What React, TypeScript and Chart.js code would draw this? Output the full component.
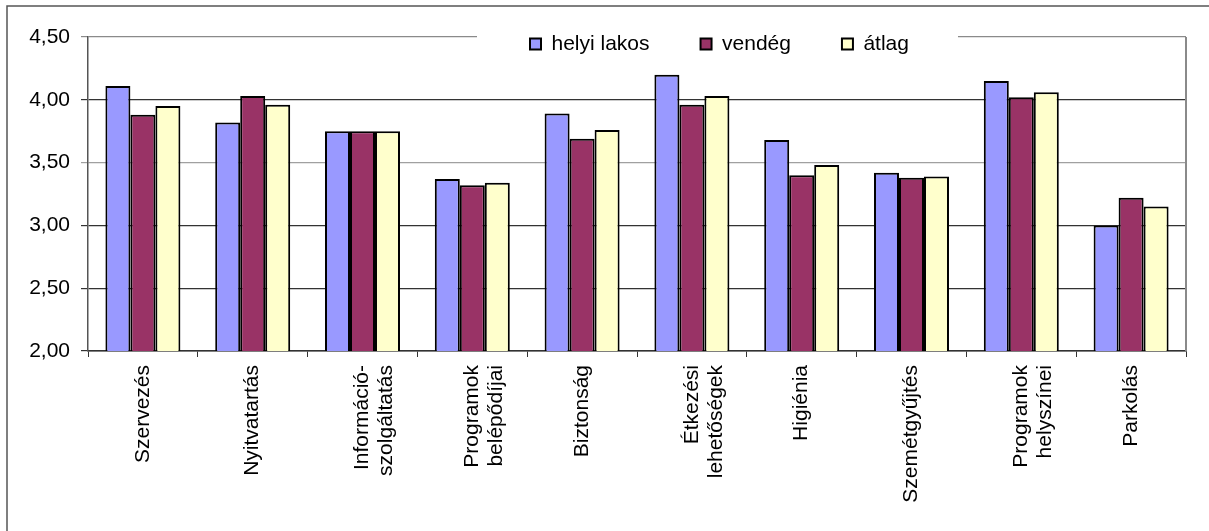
import React, { useEffect, useRef } from "react";
import { Chart, registerables } from "chart.js";

Chart.register(...registerables);

const categories: (string | string[])[] = [
  "Szervezés",
  "Nyitvatartás",
  ["Információ-", "szolgáltatás"],
  ["Programok", "belépődíjai"],
  "Biztonság",
  ["Étkezési", "lehetőségek"],
  "Higiénia",
  "Szemétgyűjtés",
  ["Programok", "helyszínei"],
  "Parkolás",
];

const helyiLakos = [4.11, 3.82, 3.75, 3.37, 3.89, 4.2, 3.68, 3.42, 4.15, 3.0];
const vendeg = [3.88, 4.03, 3.75, 3.32, 3.69, 3.96, 3.4, 3.38, 4.02, 3.22];
const atlag = [3.95, 3.96, 3.75, 3.34, 3.76, 4.03, 3.48, 3.39, 4.06, 3.15];

const seriesNames = ["helyi lakos", "vendég", "átlag"];
const yTicks = [2.0, 2.5, 3.0, 3.5, 4.0, 4.5];

const FONT = "'Liberation Sans', Arial, sans-serif";
const LEGEND_START_X = 530;
const LEGEND_ITEM_Y = 33.5;

const decorPlugin = {
  id: "decor",
  beforeDraw(chart: any) {
    const ctx = chart.ctx;
    ctx.save();
    ctx.fillStyle = "#ffffff";
    ctx.fillRect(0, 0, chart.width, chart.height);
    ctx.strokeStyle = "#555555";
    ctx.lineWidth = 1.5;
    ctx.beginPath();
    ctx.moveTo(7, chart.height);
    ctx.lineTo(7, 6);
    ctx.lineTo(chart.width, 6);
    ctx.stroke();
    ctx.restore();
  },
  beforeLayout(chart: any) {
    const lg = chart.legend;
    if (lg && !lg._zeroPatched) {
      const orig = lg.fit.bind(lg);
      lg.fit = function () {
        orig();
        this.height = 0;
      };
      lg._zeroPatched = true;
    }
  },
  afterLayout(chart: any) {
    const lg = chart.legend;
    if (!lg || !lg.lineWidths) return;
    const pad = lg.options.labels.padding;
    const start = (lg.left + pad + lg.right - lg.lineWidths[0]) / 2;
    const dx = LEGEND_START_X - start;
    lg.left += dx;
    lg.right += dx;
    lg.top = LEGEND_ITEM_Y - pad;
    lg.bottom = lg.top + pad + 40;
    lg.height = lg.bottom - lg.top;
  },
  afterDraw(chart: any) {
    const ctx = chart.ctx;
    const a = chart.chartArea;
    ctx.save();
    ctx.strokeStyle = "#8a8a8a";
    ctx.lineWidth = 2;
    ctx.beginPath();
    ctx.moveTo(a.right, a.top);
    ctx.lineTo(a.right, a.bottom);
    ctx.stroke();
    const lg = chart.legend;
    if (lg && lg.legendHitBoxes && lg.legendHitBoxes.length) {
      const hb = lg.legendHitBoxes;
      const l = Math.min(...hb.map((h: any) => h.left)) - 53;
      const r = Math.max(...hb.map((h: any) => h.left + h.width)) + 49;
      ctx.fillStyle = "#ffffff";
      ctx.fillRect(l, a.top - 8, r - l, 26);
      ctx.restore();
      lg.draw();
      return;
    }
    ctx.restore();
  },
};

export default function App() {
  const ref = useRef<HTMLCanvasElement>(null);

  useEffect(() => {
    if (!ref.current) return;
    const mk = (label: string, data: number[], color: string) => ({
      label,
      data,
      backgroundColor: color,
      borderColor: "#000000",
      borderWidth: 2,
      categoryPercentage: 0.683,
      barPercentage: 1.0,
    });
    const chart = new Chart(ref.current, {
      type: "bar",
      data: {
        labels: categories,
        datasets: [
          mk(seriesNames[0], helyiLakos, "#9999FF"),
          mk(seriesNames[1], vendeg, "#993366"),
          mk(seriesNames[2], atlag, "#FFFFCC"),
        ],
      },
      options: {
        animation: false,
        responsive: false,
        devicePixelRatio: 1,
        layout: { padding: { top: 37, right: 23, left: 0, bottom: 0 } },
        plugins: {
          tooltip: { enabled: false },
          legend: {
            position: "top",
            align: "center",
            labels: {
              color: "#000000",
              font: { family: FONT, size: 21 },
              boxWidth: 11,
              boxHeight: 11,
              padding: 51,
            },
          },
        },
        scales: {
          x: {
            afterFit(scale: any) {
              scale.height = 180;
            },
            grid: {
              display: true,
              drawOnChartArea: false,
              drawTicks: true,
              tickLength: 6,
              color: "#333333",
              offset: true,
            },
            border: { display: true, color: "#333333", width: 1.5 },
            ticks: {
              color: "#000000",
              font: { family: FONT, size: 21, lineHeight: 1.15 },
              minRotation: 90,
              maxRotation: 90,
              autoSkip: false,
              padding: 8,
            },
          },
          y: {
            min: 2,
            max: 4.5,
            afterFit(scale: any) {
              scale.width = 88;
            },
            afterBuildTicks(scale: any) {
              scale.ticks = yTicks.map((v) => ({ value: v }));
            },
            grid: {
              drawTicks: true,
              tickLength: 7,
              lineWidth: 1.2,
              color: (c: any) => {
                const v = c.tick ? c.tick.value : 0;
                if (v === 4.5) return "#8a8a8a";
                if (v === 3.5) return "#a0a0a0";
                return "#333333";
              },
            },
            border: { display: true, color: "#555555", width: 1.5 },
            ticks: {
              color: "#000000",
              font: { family: FONT, size: 21 },
              padding: 11,
              callback: (v: any) => Number(v).toFixed(2).replace(".", ","),
            },
          },
        },
      },
      plugins: [decorPlugin],
    });
    return () => chart.destroy();
  }, []);

  return (
    <div style={{ position: "absolute", left: 0, top: 0, width: 1209, height: 531 }}>
      <canvas ref={ref} width={1209} height={531} style={{ width: 1209, height: 531, display: "block" }} />
    </div>
  );
}
